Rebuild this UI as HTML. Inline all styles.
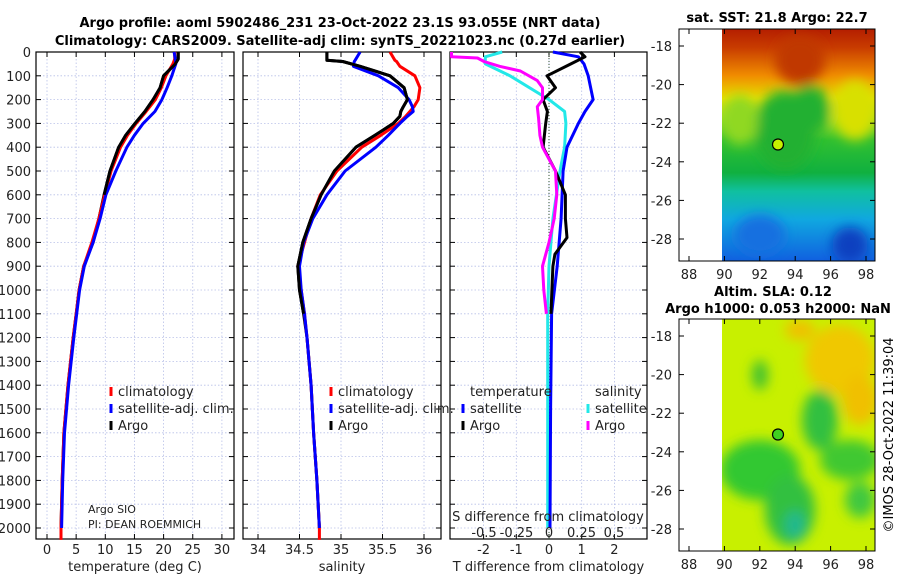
<!DOCTYPE html>
<html><head><meta charset="utf-8">
<style>
html,body{margin:0;padding:0;background:#fff;}
svg{display:block;font-family:"DejaVu Sans","Liberation Sans",sans-serif;}
</style></head>
<body>
<svg id="chart" width="900" height="580" viewBox="0 0 900 580">
<defs>
<filter id="blur6"><feGaussianBlur stdDeviation="6"/></filter>
<filter id="blur4"><feGaussianBlur stdDeviation="4"/></filter>
<clipPath id="clipMap1"><rect x="722" y="29" width="153" height="232"/></clipPath>
<clipPath id="clipMap2"><rect x="722" y="319" width="153" height="232"/></clipPath>
<linearGradient id="sstGrad" x1="0" y1="0" x2="0" y2="1">
<stop offset="0" stop-color="#b41e00"/><stop offset="0.08" stop-color="#c83c00"/>
<stop offset="0.2" stop-color="#f08c00"/><stop offset="0.3" stop-color="#e8e000"/>
<stop offset="0.38" stop-color="#a0e020"/><stop offset="0.48" stop-color="#30c030"/>
<stop offset="0.62" stop-color="#10b040"/><stop offset="0.7" stop-color="#10c0a0"/>
<stop offset="0.82" stop-color="#10a8e0"/><stop offset="1" stop-color="#1060e0"/>
</linearGradient>
</defs>
<g id="title">
<text x="340" y="27" text-anchor="middle" font-size="13" font-weight="bold">Argo profile: aoml 5902486_231 23-Oct-2022 23.1S 93.055E (NRT data)</text>
<text x="340" y="45" text-anchor="middle" font-size="13" font-weight="bold">Climatology: CARS2009. Satellite-adj clim: synTS_20221023.nc (0.27d earlier)</text>
</g>
<g id="panels"></g>
<g id="maps">
<text x="777" y="22" text-anchor="middle" font-size="13" font-weight="bold">sat. SST: 21.8 Argo: 22.7</text>
<g clip-path="url(#clipMap1)">
<rect x="722" y="29" width="153" height="232" fill="url(#sstGrad)"/>
<g filter="url(#blur6)">
<ellipse cx="800" cy="60" rx="25" ry="25" fill="#c03800"/>
<ellipse cx="785" cy="130" rx="30" ry="40" fill="#20b030"/>
<ellipse cx="810" cy="110" rx="20" ry="25" fill="#20b030"/>
<ellipse cx="855" cy="110" rx="22" ry="30" fill="#d8e000"/>
<ellipse cx="740" cy="120" rx="18" ry="25" fill="#90d820"/>
<ellipse cx="850" cy="245" rx="18" ry="18" fill="#0840c0"/>
<ellipse cx="760" cy="235" rx="25" ry="20" fill="#1870e0"/>
</g>
</g>
<rect x="679" y="29" width="196" height="232" fill="none" stroke="#000" stroke-width="1"/>
<circle cx="778" cy="144.5" r="5.5" fill="#c8f000" stroke="#000" stroke-width="1.2"/>
<text x="773" y="296" text-anchor="middle" font-size="13" font-weight="bold">Altim. SLA: 0.12</text>
<text x="778" y="313" text-anchor="middle" font-size="13" font-weight="bold">Argo h1000: 0.053 h2000: NaN</text>
<g clip-path="url(#clipMap2)">
<rect x="722" y="319" width="153" height="232" fill="#c8f000"/>
<g filter="url(#blur6)">
<ellipse cx="840" cy="360" rx="35" ry="35" fill="#f0c800"/>
<ellipse cx="860" cy="400" rx="18" ry="25" fill="#f0c000"/>
<ellipse cx="760" cy="470" rx="40" ry="30" fill="#30c830"/>
<ellipse cx="820" cy="420" rx="18" ry="30" fill="#30c040"/>
<ellipse cx="850" cy="460" rx="30" ry="20" fill="#40c830"/>
<ellipse cx="790" cy="510" rx="25" ry="35" fill="#30c040"/>
<ellipse cx="795" cy="525" rx="10" ry="14" fill="#20b890"/>
<ellipse cx="760" cy="375" rx="8" ry="15" fill="#40c030"/>
<ellipse cx="860" cy="500" rx="15" ry="18" fill="#40c840"/>
<ellipse cx="800" cy="330" rx="15" ry="10" fill="#f0c000"/>
</g>
</g>
<rect x="679" y="319" width="196" height="232" fill="none" stroke="#000" stroke-width="1"/>
<circle cx="778" cy="434.5" r="5.5" fill="#40d020" stroke="#000" stroke-width="1.2"/>
<text transform="translate(893,435) rotate(-90)" text-anchor="middle" font-size="13">©IMOS 28-Oct-2022 11:39:04</text>
</g>
</svg>
<script>
// ---------- data ----------
const tDepth = [0,30,50,100,150,200,250,300,350,400,500,600,700,800,900,1000,1100,1200,1400,1600,1800,2000];
const tArgo  = [22.5,22.5,22,20,19.4,18.2,16.8,15.1,13.5,12.3,10.8,9.8,8.9,7.9,6.3,5.5,5.0,4.5,3.6,2.9,2.6,2.4];
const tClim  = [21.9,21.9,21.6,20.4,19.6,18.6,17.0,15.3,13.8,12.6,11.0,9.9,8.9,7.7,6.3,5.5,5.0,4.5,3.6,2.9,2.6,2.4];
const tSat   = [21.8,22.0,22.1,21.4,20.6,19.7,18.5,16.5,15.0,13.7,11.8,10.1,9.1,7.9,6.4,5.6,5.1,4.6,3.7,3.0,2.7,2.5];
const sDepth = [0,35,40,60,100,150,200,230,250,270,300,350,400,500,600,700,800,900,1000,1100,1200,1400,1600,1800,2000];
const sArgo  = [34.83,34.83,35.02,35.23,35.59,35.76,35.8,35.75,35.72,35.71,35.63,35.41,35.18,34.92,34.76,34.64,34.54,34.48,34.5,34.55,34.59,34.64,34.67,34.71,34.74];
const sClim  = [35.59,35.65,35.67,35.71,35.89,35.95,35.93,35.88,35.83,35.78,35.69,35.48,35.25,34.95,34.75,34.64,34.56,34.48,34.52,34.56,34.59,34.64,34.67,34.71,34.74];
const sSat   = [35.23,35.17,35.16,35.15,35.45,35.69,35.82,35.86,35.87,35.8,35.71,35.57,35.42,35.05,34.83,34.66,34.55,34.5,34.52,34.56,34.59,34.64,34.67,34.71,34.74];
const dDepth = [0,20,50,100,150,200,250,300,400,500,600,700,780,850,900,1000,1100];
const dTArgo = [0.95,1.1,0.67,-0.06,0.2,-0.18,-0.05,-0.1,-0.18,0.2,0.5,0.5,0.55,0.18,0.12,0.09,0.06];
const dsDepth = [0,20,50,100,200,250,300,400,500,700,900,1100,1500,2000];
const dTSat  = [0.12,0.9,1.07,1.2,1.35,1.1,0.9,0.55,0.43,0.37,0.25,0.08,0.05,0.03];
const dSSat  = [-0.36,-0.49,-0.49,-0.3,0,0.12,0.13,0.12,0.085,0.03,0,-0.01,-0.01,-0.01];
const mDepth = [0,20,25,40,60,80,120,150,200,230,280,350,400,500,600,700,800,900,1000,1100];
const dSArgo = [-0.75,-0.75,-0.55,-0.5,-0.38,-0.22,-0.09,-0.05,-0.05,-0.09,-0.08,-0.07,-0.05,0.05,0.06,0.04,0,-0.05,-0.04,-0.02];
const depthTicks = [0,100,200,300,400,500,600,700,800,900,1000,1100,1200,1300,1400,1500,1600,1700,1800,1900,2000];
const tTicks = [0,5,10,15,20,25,30];
const sTicks = [34,34.5,35,35.5,36];
const dTTicks = [-2,-1,0,1,2];
const dSTicks = [-0.5,-0.25,0,0.25,0.5];
const dSTickLabels = ['-0.5','-0.25','0','0.25','0.5'];

// ---------- scales ----------
const TOP=52, BOT=539;
const yD = d => TOP + d*0.238;
const xT = v => 47 + v*5.83;
const xS = v => 258 + (v-34)*83;
const xDT = v => 549 + v*32.7;
const xDS = v => 549 + v*130;

const NS='http://www.w3.org/2000/svg';
const root=document.getElementById('panels');
function el(tag, attrs, parent){const e=document.createElementNS(NS,tag);for(const k in attrs)e.setAttribute(k,attrs[k]);(parent||root).appendChild(e);return e;}
function txt(x,y,s,size,anchor,parent){const t=el('text',{x:x,y:y,'font-size':size,'text-anchor':anchor||'middle',fill:'#222'},parent);t.textContent=s;return t;}

function panel(name,L,R,xs,ticks,labels,xlabel){
  const g=el('g',{});
  
  
  depthTicks.forEach(d=>{el('line',{x1:L,x2:R,y1:yD(d),y2:yD(d),stroke:'#b8c0e8','stroke-width':0.8,'stroke-dasharray':'1.5,2'},g);
    el('line',{x1:L,x2:L+5,y1:yD(d),y2:yD(d),stroke:'#000'},g);el('line',{x1:R-5,x2:R,y1:yD(d),y2:yD(d),stroke:'#000'},g);});
  ticks.forEach((t,i)=>{const x=xs(t);
    el('line',{x1:x,x2:x,y1:TOP,y2:BOT,stroke:'#b8c0e8','stroke-width':0.8,'stroke-dasharray':'1.5,2'},g);
    el('line',{x1:x,x2:x,y1:BOT-5,y2:BOT,stroke:'#000'},g);el('line',{x1:x,x2:x,y1:TOP,y2:TOP+5,stroke:'#000'},g);
    if(labels){const lt=txt(x,554,labels[i],13,'middle',g);
      
      }
  });
  el('rect',{x:L,y:TOP,width:R-L,height:BOT-TOP,fill:'none',stroke:'#000','stroke-width':1.2},g);
  const xl=txt((L+R)/2,571,xlabel,13,'middle',g);
  
  
  return g;
}
function line(g,xs,vals,depths,color,name,w){
  const pts=vals.map((v,i)=>xs(v).toFixed(1)+','+yD(depths[i]).toFixed(1)).join(' ');
  const p=el('polyline',{points:pts,fill:'none',stroke:color,'stroke-width':w||3,'stroke-linejoin':'round'},g);
  
  
}
function legend(g,x,y,color,label){
  el('rect',{x:x-1.5,y:y-9,width:3,height:9,fill:color},g);
  const t=txt(x+7,y,label,13,'start',g);
  
  
}

// depth axis labels
const gy=el('g',{});


depthTicks.forEach(d=>{txt(31,yD(d)+5,String(d),13,'end',gy);});

// panel 1
const g1=panel('temperature-panel',36,234,xT,tTicks,tTicks.map(String),'temperature (deg C)');
line(g1,xT,tArgo,tDepth,'#000','temperature-argo-line');
line(g1,xT,tClim.concat([2.4]),tDepth.concat([2050]),'#f00','temperature-climatology-line');
line(g1,xT,tSat,tDepth,'#00f','temperature-satellite-line');
line(g1,xT,tArgo.slice(0,12),tDepth.slice(0,12),'#000','temperature-argo-line-upper');
legend(g1,111,396,'#f00','climatology');legend(g1,111,413,'#00f','satellite-adj. clim.');legend(g1,111,430,'#000','Argo');
txt(88,513,'Argo SIO',11,'start',g1);txt(88,528,'PI: DEAN ROEMMICH',11,'start',g1);

// panel 2
const g2=panel('salinity-panel',243,441,xS,sTicks,sTicks.map(String),'salinity');
line(g2,xS,sArgo,sDepth,'#000','salinity-argo-line');
line(g2,xS,sClim.concat([34.74]),sDepth.concat([2050]),'#f00','salinity-climatology-line');
line(g2,xS,sSat,sDepth,'#00f','salinity-satellite-line');
line(g2,xS,sArgo.slice(0,20),sDepth.slice(0,20),'#000','salinity-argo-line-upper');
legend(g2,331,396,'#f00','climatology');legend(g2,331,413,'#00f','satellite-adj. clim.');legend(g2,331,430,'#000','Argo');

// panel 3
const g3=panel('difference-panel',450,647,xDT,dTTicks,dTTicks.map(String),'T difference from climatology');
el('line',{x1:xDT(0),x2:xDT(0),y1:TOP,y2:BOT,stroke:'#335533','stroke-width':1,'stroke-dasharray':'1,2'},g3);
line(g3,xDS,dSSat,dsDepth,'#22e8e8','salinity-diff-satellite-line');
line(g3,xDT,dTSat,dsDepth,'#00f','temperature-diff-satellite-line');
line(g3,xDT,dTArgo,dDepth,'#000','temperature-diff-argo-line');
line(g3,xDS,dSArgo,mDepth,'#f0f','salinity-diff-argo-line');
txt(470,396,'temperature',13,'start',g3);txt(595,396,'salinity',13,'start',g3);
legend(g3,463,413,'#00f','satellite');legend(g3,463,430,'#000','Argo');
legend(g3,588,413,'#22e8e8','satellite');legend(g3,588,430,'#f0f','Argo');
const st=txt(548,521,'S difference from climatology',13,'middle',g3);


dSTicks.forEach((t,i)=>{const l=txt(xDS(t),537,dSTickLabels[i],13,'middle',g3);
  
  });

// map axes
function mapAxes(top,name){
  const g=document.createElementNS(NS,'g');document.getElementById('maps').appendChild(g);
  
  
  [-18,-20,-22,-24,-26,-28].forEach(lat=>{const y=top+17+(-18-lat)*19.3;
    txt(672,y+5,String(lat),13,'end',g);
    el('line',{x1:679,x2:684,y1:y,y2:y,stroke:'#000'},g);el('line',{x1:870,x2:875,y1:y,y2:y,stroke:'#000'},g);});
  [88,90,92,94,96,98].forEach(lon=>{const x=689+(lon-88)*17.7;
    txt(x,top+232+18,String(lon),13,'middle',g);
    el('line',{x1:x,x2:x,y1:top+227,y2:top+232,stroke:'#000'},g);el('line',{x1:x,x2:x,y1:top,y2:top+5,stroke:'#000'},g);});
}
mapAxes(29,'sst-map-axes');mapAxes(319,'sla-map-axes');
</script>
</body></html>
